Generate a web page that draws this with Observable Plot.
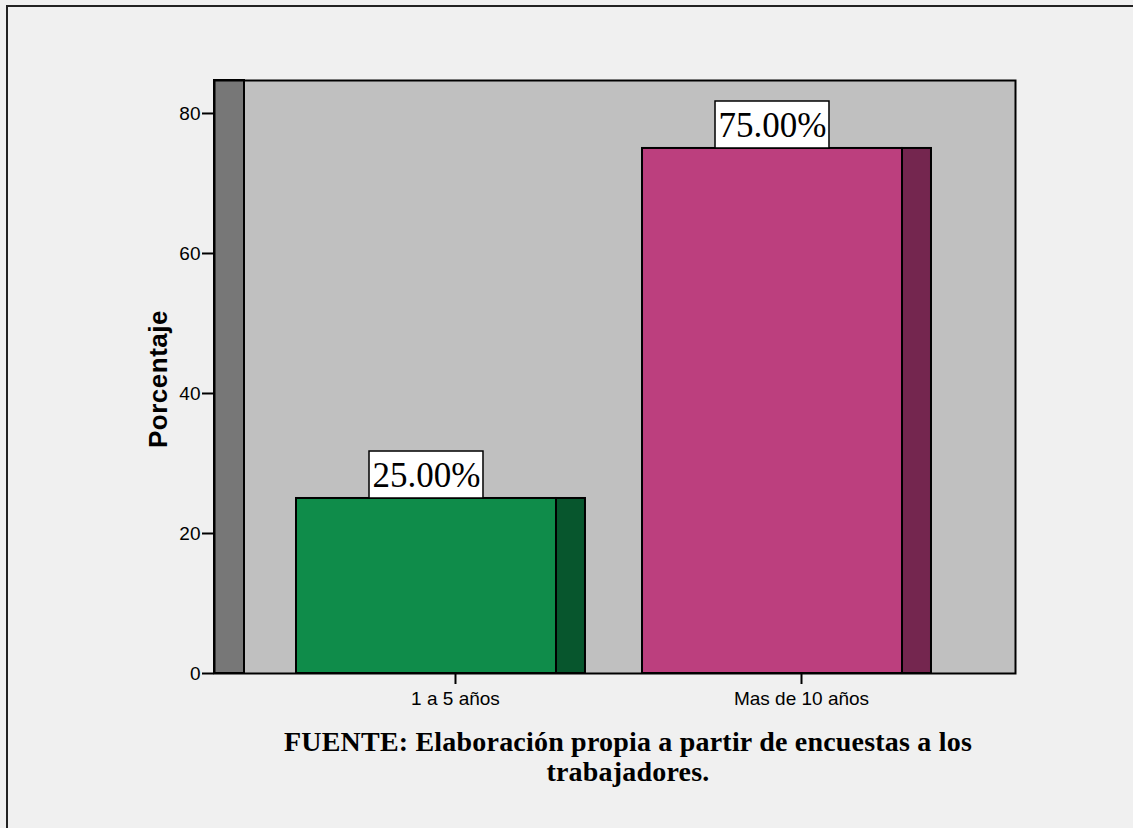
<!DOCTYPE html>
<html>
<head>
<meta charset="utf-8">
<script src="https://cdn.jsdelivr.net/npm/d3@7"></script>
<script src="https://cdn.jsdelivr.net/npm/@observablehq/plot@0.6"></script>
<style>
  html, body { margin: 0; padding: 0; background: #f0f0f0; }
  #page { position: relative; width: 1133px; height: 828px; overflow: hidden; background: #f0f0f0; }
  #border { position: absolute; left: 6px; top: 5px; width: 1200px; height: 900px; border: 2px solid #222; box-sizing: border-box; }
  #chart { position: absolute; left: 0; top: 0; }
  #ylabel { position: absolute; left: 158px; top: 379px; transform: translate(-50%, -50%) rotate(-90deg);
    font-family: Arial, "Liberation Sans", sans-serif; font-weight: bold; font-size: 26px; line-height: 26px;
    letter-spacing: 0.5px; white-space: nowrap; color: #000; }
  #caption { position: absolute; left: 628px; top: 727px; transform: translateX(-50%); width: 800px; text-align: center;
    font-family: "Liberation Serif", "Times New Roman", serif; font-weight: bold; font-size: 28px; line-height: 30px;
    letter-spacing: 0.2px; color: #000; }
</style>
</head>
<body>
<div id="page">
  <div id="border"></div>
  <div id="chart"></div>
  <div id="ylabel">Porcentaje</div>
  <div id="caption">FUENTE: Elaboración propia a partir de encuestas a los<br>trabajadores.</div>
</div>
<script>
const categories = ["1 a 5 años", "Mas de 10 años"];
const values = [25, 75];
const valueLabels = ["25.00%", "75.00%"];
const yTicks = [0, 20, 40, 60, 80];
const frontColors = ["#0f8c4a", "#bc3f7e"];
const sideColors = ["#07562d", "#74264f"];

// layout constants (in category-index units / value units)
const xMin = -0.6965, xMax = 1.6185;
const yMax = 84.71;
const wallW = 0.0867;
const frontL = -0.4595, frontR = 0.2919, sideR = 0.3757;
const boxHalf = 0.1647, boxH = 6.71;

const data = categories.map((c, i) => ({i, c, v: values[i], label: valueLabels[i]}));

const chart = Plot.plot({
  width: 1133,
  height: 720,
  marginLeft: 214,
  marginRight: 118,
  marginTop: 80,
  marginBottom: 47,
  style: {background: "transparent", fontFamily: "Arial, 'Liberation Sans', sans-serif", fontSize: "19px", color: "black"},
  x: {type: "linear", domain: [xMin, xMax], axis: null, label: null},
  y: {domain: [0, yMax], axis: null, label: null},
  marks: [
    Plot.frame({fill: "#c0c0c0"}),
    Plot.rect([{}], {x1: xMin, x2: xMin + wallW, y1: 0, y2: yMax, fill: "#777777", stroke: "black", strokeWidth: 2}),
    Plot.rect(data, {x1: d => d.i + frontR, x2: d => d.i + sideR, y1: 0, y2: d => d.v, fill: (d) => sideColors[d.i], stroke: "black", strokeWidth: 2}),
    Plot.rect(data, {x1: d => d.i + frontL, x2: d => d.i + frontR, y1: 0, y2: d => d.v, fill: (d) => frontColors[d.i], stroke: "black", strokeWidth: 2}),
    Plot.rect(data, {x1: d => d.i + (frontL + frontR) / 2 - boxHalf, x2: d => d.i + (frontL + frontR) / 2 + boxHalf,
      y1: d => d.v, y2: d => d.v + boxH, fill: "white", stroke: "black", strokeWidth: 1.5}),
    Plot.text(data, {x: d => d.i + (frontL + frontR) / 2, y: d => d.v + boxH / 2, text: d => d.label,
      fontFamily: "'Liberation Serif', 'Times New Roman', serif", fontSize: 35, fill: "black", lineAnchor: "middle", dy: 1}),
    Plot.axisY({ticks: yTicks, tickSize: 12, tickPadding: 2, fontSize: 19, strokeWidth: 2, label: null}),
    Plot.axisX({ticks: [0, 1], tickFormat: i => categories[i], tickSize: 11, tickPadding: 7, fontSize: 19, strokeWidth: 2, label: null}),
    Plot.frame({stroke: "black", strokeWidth: 2})
  ]
});
document.getElementById("chart").appendChild(chart);
</script>
</body>
</html>
